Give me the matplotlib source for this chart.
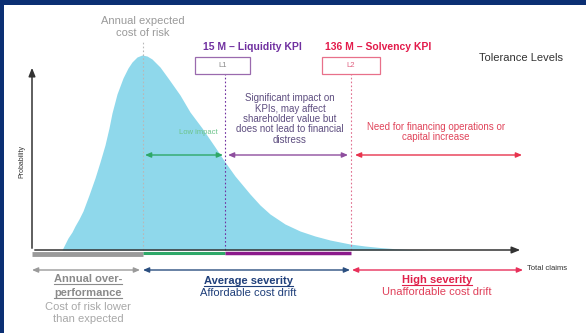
import matplotlib.pyplot as plt
from matplotlib.patches import Rectangle

plt.switch_backend('agg')
plt.rcParams['font.family'] = ['Liberation Sans', 'DejaVu Sans']

# loss distribution (schematic), claims on x, probability on y
claims = [30, 33, 36, 40, 43, 47, 51, 57, 63, 68, 73, 77, 80, 85, 91, 96, 100, 105,
          110, 115, 120, 128, 136, 148, 158, 170, 183, 193, 203, 218, 228, 238,
          253, 268, 283, 298, 318, 333, 348, 363, 378, 398]
density = [0, 6, 12, 18, 24, 31, 39, 55, 72, 88, 105, 122, 137, 156, 172, 182, 188, 193,
           195, 194, 191, 183, 172, 155, 138, 122, 103, 88, 74, 56, 45, 36,
           26, 19, 14, 10, 6, 4, 2.5, 1.3, 0.5, 0]

expected_cost = 111
liquidity_kpi = 193   # L1 : 15 M
solvency_kpi = 319    # L2 : 136 M
axis_end = 491
axis_top = 185

NAVY = '#0B2F73'
PURPLE = '#7030A0'
RED = '#E31B4B'
GREEN = '#2EA868'
BLUE = '#1F3F7A'

fig = plt.figure(figsize=(5.86, 3.33), dpi=100)
fig.patch.set_facecolor(NAVY)
ax = fig.add_axes([0, 0, 1, 1])
ax.set_xlim(-32, 554)
ax.set_ylim(-83, 250)
ax.axis('off')

# white panel inside the navy frame
ax.add_patch(Rectangle((-28, -83), 600, 328, facecolor='white', edgecolor='none', zorder=0))

ax.fill_between(claims, density, 0, color='#8FD8EB', lw=0, zorder=1)

# expected cost and KPI thresholds
ax.plot([expected_cost, expected_cost], [0, 210], color='#b8b8b8', lw=0.8, ls=(0, (1.5, 2)), zorder=2)
ax.plot([liquidity_kpi, liquidity_kpi], [0, 176], color=PURPLE, lw=0.8, ls=(0, (1.5, 2)), zorder=2)
ax.plot([solvency_kpi, solvency_kpi], [0, 176], color='#E07090', lw=0.8, ls=(0, (1.5, 2)), zorder=2)

# axes with arrows
ax.annotate('', xy=(axis_end, 0), xytext=(0, 0),
            arrowprops=dict(arrowstyle='-|>,head_length=0.5,head_width=0.2', color='#333333', lw=1.1), zorder=4)
ax.annotate('', xy=(0, axis_top), xytext=(0, -1),
            arrowprops=dict(arrowstyle='-|>,head_length=0.5,head_width=0.2', color='#333333', lw=1.1), zorder=4)

# coloured bands under the x axis
ax.plot([0, expected_cost], [-3.5, -3.5], color='#9a9a9a', lw=3.5, solid_capstyle='butt', zorder=3)
ax.plot([expected_cost, liquidity_kpi], [-2.5, -2.5], color=GREEN, lw=2.2, solid_capstyle='butt', zorder=3)
ax.plot([liquidity_kpi, solvency_kpi], [-2.5, -2.5], color='#8B1A8B', lw=2.5, solid_capstyle='butt', zorder=3)


def span(x0, x1, y, color):
    ax.annotate('', xy=(x1, y), xytext=(x0, y),
                arrowprops=dict(arrowstyle='<|-|>,head_length=0.35,head_width=0.15',
                                color=color, lw=1.0, shrinkA=0, shrinkB=0), zorder=4)


span(expected_cost + 2, liquidity_kpi - 2, 95, GREEN)
span(liquidity_kpi + 3, solvency_kpi - 3, 95, '#8E4E9E')
span(solvency_kpi + 4, axis_end - 1, 95, '#E8344E')
span(0, expected_cost - 3, -20, '#9a9a9a')
span(expected_cost, solvency_kpi - 1, -20, '#2B4F80')
span(solvency_kpi + 1, axis_end, -20, '#E8305A')

# header texts
ax.text(expected_cost, 223, 'Annual expected\ncost of risk', ha='center', va='center',
        fontsize=8, color='#9a9a9a', linespacing=1.15)
ax.text(220, 203, '15 M – Liquidity KPI', ha='center', va='center',
        fontsize=7.5, fontweight='bold', color=PURPLE)
ax.text(346, 203, '136 M – Solvency KPI', ha='center', va='center',
        fontsize=7.5, fontweight='bold', color=RED)
ax.add_patch(Rectangle((163, 176), 55, 17, facecolor='white', edgecolor='#9A6AAE', lw=0.9, zorder=3))
ax.add_patch(Rectangle((290, 176), 58, 17, facecolor='white', edgecolor='#E8708A', lw=0.9, zorder=3))
ax.text(190.5, 184.5, 'L1', ha='center', va='center', fontsize=5.5, color='#888888', zorder=4)
ax.text(319, 184.5, 'L2', ha='center', va='center', fontsize=5.5, color='#E06080', zorder=4)
ax.text(489, 192, 'Tolerance Levels', ha='center', va='center', fontsize=8, color='#333333')

# zone descriptions
ax.text(166, 117, 'Low impact', ha='center', va='center', fontsize=5.5, color='#6CC48A')
ax.text(258, 131, 'Significant impact on\nKPIs, may affect\nshareholder value but\ndoes not lead to financial\ndistress',
        ha='center', va='center', fontsize=7, color='#5E4E80', linespacing=1.05)
ax.text(404, 118, 'Need for financing operations or\ncapital increase', ha='center', va='center',
        fontsize=7, color='#E0445A', linespacing=1.05)

ax.text(-10, 88, 'Probability', rotation=90, ha='center', va='center', fontsize=5, color='#333333')
ax.text(495, -18, 'Total claims', ha='left', va='center', fontsize=5.5, color='#333333')

# bottom zone titles (underlined)
titles = [
    (56, -29, 'Annual over-', '#8a8a8a'),
    (56, -43, 'performance', '#8a8a8a'),
    (216, -31, 'Average severity', BLUE),
    (405, -30, 'High severity', '#E0204A'),
]
title_texts = []
for x, y, s, c in titles:
    t = ax.text(x, y, s, ha='center', va='center', fontsize=8, fontweight='bold', color=c)
    title_texts.append((t, c))

ax.text(56, -63, 'Cost of risk lower\nthan expected', ha='center', va='center',
        fontsize=8, color='#a8a8a8', linespacing=1.2)
ax.text(216, -43, 'Affordable cost drift', ha='center', va='center', fontsize=8, color=BLUE)
ax.text(405, -42, 'Unaffordable cost drift', ha='center', va='center', fontsize=8, color='#E0405A')

fig.canvas.draw()
renderer = fig.canvas.get_renderer()
inv = ax.transData.inverted()
for t, c in title_texts:
    bb = t.get_window_extent(renderer)
    (x0, y0), (x1, y1) = inv.transform([[bb.x0, bb.y0], [bb.x1, bb.y1]])
    ax.plot([x0, x1], [y0 + 0.5, y0 + 0.5], color=c, lw=0.8)

fig.savefig('out.png', dpi=100, facecolor=fig.get_facecolor())
